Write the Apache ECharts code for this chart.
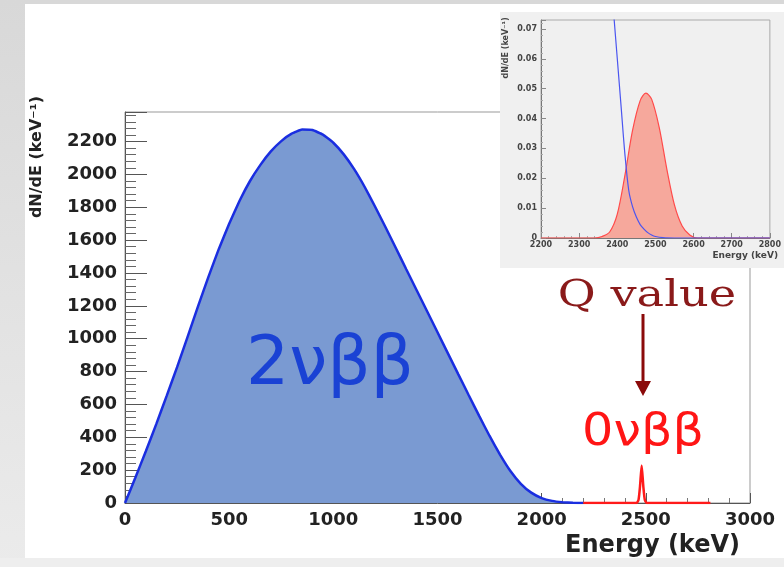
<!DOCTYPE html>
<html>
<head>
<meta charset="utf-8">
<script src="https://cdn.jsdelivr.net/npm/echarts@6/dist/echarts.min.js"></script>
<style>
  html, body { margin: 0; padding: 0; background: #fff; }
  #chart { width: 784px; height: 567px; }
</style>
</head>
<body>
<div id="chart"></div>
<script>
// 2vbb continuum, main panel (keV, counts/keV)
const energy2nu = [0, 50, 100, 150, 200, 250, 300, 350, 400, 450, 500, 550, 600, 650, 700, 750, 800, 850, 900, 950,
  1000, 1050, 1100, 1150, 1200, 1250, 1300, 1350, 1400, 1450, 1500, 1550, 1600, 1650, 1700, 1750, 1800, 1850, 1900,
  1950, 2000, 2050, 2100, 2150, 2200];
const rate2nu = [0, 155, 315, 480, 652, 827, 1010, 1195, 1375, 1545, 1700, 1840, 1960, 2058, 2140, 2203, 2248, 2273, 2270, 2242,
  2193, 2122, 2032, 1925, 1805, 1680, 1552, 1423, 1295, 1167, 1039, 911, 783, 656, 530, 408, 295, 195, 117,
  63, 30, 13, 5, 1, 0];

// 0vbb line at Q value, main panel
const energy0nu = [2200, 2455, 2465, 2472, 2480, 2488, 2495, 2505, 2810];
const rate0nu = [0, 0, 20, 100, 228, 100, 20, 0, 0];

// zoomed inset
const insetEnergy2nu = [2380, 2390, 2400, 2410, 2420, 2430, 2440, 2450, 2460, 2470, 2480, 2490, 2500, 2520, 2550, 2800];
const insetRate2nu = [0.092, 0.076, 0.060, 0.044, 0.028, 0.016, 0.0105, 0.007, 0.0045, 0.003, 0.0018, 0.001, 0.0005, 0.0001, 0, 0];
const insetEnergy0nu = [2200, 2340, 2360, 2380, 2400, 2420, 2440, 2460, 2475, 2490, 2510, 2530, 2550, 2570, 2590, 2610, 2800];
const insetRate0nu = [0, 0, 0.0005, 0.002, 0.008, 0.021, 0.036, 0.046, 0.0485, 0.0465, 0.037, 0.023, 0.011, 0.004, 0.001, 0, 0];

const pairs = (xs, ys) => xs.map((x, i) => [x, ys[i]]);
const plain = v => String(+v.toFixed(4));

const labelFont = { fontFamily: 'DejaVu Sans', fontWeight: 'bold', color: '#222', formatter: plain };

const chart = echarts.init(document.getElementById('chart'));

const option = {
  backgroundColor: '#fff',
  animation: false,
  grid: [
    { left: 125, right: 34, top: 112, bottom: 64, show: true, borderColor: '#999', borderWidth: 1, z: 0 },
    { left: 541, right: 8, top: 20, bottom: 329, show: true, backgroundColor: '#f0f0f0', borderColor: '#aaa', borderWidth: 1, z: 5 }
  ],
  xAxis: [
    {
      gridIndex: 0, type: 'value', min: 0, max: 3000, interval: 500,
      axisLine: { show: true, onZero: false, lineStyle: { color: '#555', width: 1 } },
      axisTick: { show: true, inside: true, length: 10, lineStyle: { color: '#555' } },
      minorTick: { show: true, splitNumber: 5, length: 5, lineStyle: { color: '#777' } },
      splitLine: { show: false },
      axisLabel: Object.assign({ fontSize: 18, margin: 8 }, labelFont)
    },
    {
      gridIndex: 1, type: 'value', min: 2200, max: 2800, interval: 100, z: 6,
      axisLine: { show: true, onZero: false, lineStyle: { color: '#777', width: 1 } },
      axisTick: { show: true, inside: true, length: 5, lineStyle: { color: '#888' } },
      minorTick: { show: true, splitNumber: 5, length: 2, lineStyle: { color: '#aaa' } },
      splitLine: { show: false },
      axisLabel: Object.assign({ fontSize: 8, margin: 3 }, labelFont, { color: '#444' })
    }
  ],
  yAxis: [
    {
      gridIndex: 0, type: 'value', min: 0, max: 2380, interval: 200,
      axisLine: { show: true, onZero: false, lineStyle: { color: '#555', width: 1 } },
      axisTick: { show: true, inside: true, length: 22, lineStyle: { color: '#555' } },
      minorTick: { show: true, splitNumber: 5, length: 11, lineStyle: { color: '#666' } },
      splitLine: { show: false },
      axisLabel: Object.assign({ fontSize: 18, margin: 8, showMaxLabel: false }, labelFont)
    },
    {
      gridIndex: 1, type: 'value', min: 0, max: 0.073, interval: 0.01, z: 6,
      axisLine: { show: true, onZero: false, lineStyle: { color: '#777', width: 1 } },
      axisTick: { show: true, inside: true, length: 5, lineStyle: { color: '#888' } },
      minorTick: { show: true, splitNumber: 5, length: 2, lineStyle: { color: '#aaa' } },
      splitLine: { show: false },
      axisLabel: Object.assign({ fontSize: 8, margin: 4, showMaxLabel: false }, labelFont, { color: '#444' })
    }
  ],
  series: [
    {
      type: 'line', xAxisIndex: 0, yAxisIndex: 0, data: pairs(energy2nu, rate2nu),
      smooth: 0.1, showSymbol: false, z: 2,
      lineStyle: { color: '#1a2ee0', width: 2.5 },
      areaStyle: { color: '#7a9ad2', opacity: 1 }
    },
    {
      type: 'line', xAxisIndex: 0, yAxisIndex: 0, data: pairs(energy0nu, rate0nu),
      smooth: 0.2, showSymbol: false, z: 2,
      lineStyle: { color: '#ff1a1a', width: 2.5 }
    },
    {
      type: 'line', xAxisIndex: 1, yAxisIndex: 1, data: pairs(insetEnergy0nu, insetRate0nu),
      smooth: 0.3, showSymbol: false, z: 7,
      lineStyle: { color: '#ff4a4a', width: 1.2 },
      areaStyle: { color: '#f6a89c', opacity: 1 }
    },
    {
      type: 'line', xAxisIndex: 1, yAxisIndex: 1, data: pairs(insetEnergy2nu, insetRate2nu),
      smooth: 0.3, showSymbol: false, z: 8,
      lineStyle: { color: '#4a55f0', width: 1.2 }
    }
  ],
  graphic: [
    // outer grey margins
    { type: 'rect', z: 1, shape: { x: 0, y: 0, width: 784, height: 4 }, style: { fill: '#d8d8d8' } },
    { type: 'rect', z: 1, shape: { x: 0, y: 0, width: 25, height: 567 },
      style: { fill: new echarts.graphic.LinearGradient(0, 0, 0, 1, [{ offset: 0, color: '#d8d8d8' }, { offset: 1, color: '#ebebeb' }]) } },
    { type: 'rect', z: 1, shape: { x: 0, y: 558, width: 784, height: 9 }, style: { fill: '#eeeeee' } },
    // inset panel
    { type: 'rect', z: 4, shape: { x: 500, y: 12, width: 284, height: 256 }, style: { fill: '#f0f0f0' } },
    { type: 'text', z: 9, x: 506, y: 48, rotation: Math.PI / 2,
      style: { text: 'dN/dE (keV⁻¹)', font: 'bold 8px "DejaVu Sans"', fill: '#444', align: 'center', verticalAlign: 'middle' } },
    { type: 'text', z: 9, x: 778, y: 256,
      style: { text: 'Energy (keV)', font: 'bold 9px "DejaVu Sans"', fill: '#444', align: 'right', verticalAlign: 'middle' } },
    // main axis titles
    { type: 'text', z: 9, x: 37, y: 157, rotation: Math.PI / 2,
      style: { text: 'dN/dE (keV⁻¹)', font: 'bold 16px "DejaVu Sans"', fill: '#222', align: 'center', verticalAlign: 'middle' } },
    { type: 'text', z: 9, x: 740, y: 546,
      style: { text: 'Energy (keV)', font: 'bold 24px "DejaVu Sans"', fill: '#222', align: 'right', verticalAlign: 'middle' } },
    // annotations
    { type: 'text', z: 9, x: 330, y: 366,
      style: { text: '2νββ', font: '68px "DejaVu Sans"', fill: '#1a42d4', align: 'center', verticalAlign: 'middle' } },
    { type: 'text', z: 9, x: 647, y: 296, scaleX: 1.25,
      style: { text: 'Q value', font: '37px "DejaVu Serif"', fill: '#8a1a1a', align: 'center', verticalAlign: 'middle' } },
    { type: 'line', z: 9, shape: { x1: 643, y1: 314, x2: 643, y2: 384 }, style: { stroke: '#8b0a0a', lineWidth: 3 } },
    { type: 'polygon', z: 9, shape: { points: [[635, 381], [651, 381], [643, 396]] }, style: { fill: '#8b0a0a' } },
    { type: 'text', z: 9, x: 643, y: 434, scaleX: 1.12,
      style: { text: '0νββ', font: '44px "DejaVu Sans"', fill: '#ff1515', align: 'center', verticalAlign: 'middle' } }
  ]
};

chart.setOption(option);
</script>
</body>
</html>
